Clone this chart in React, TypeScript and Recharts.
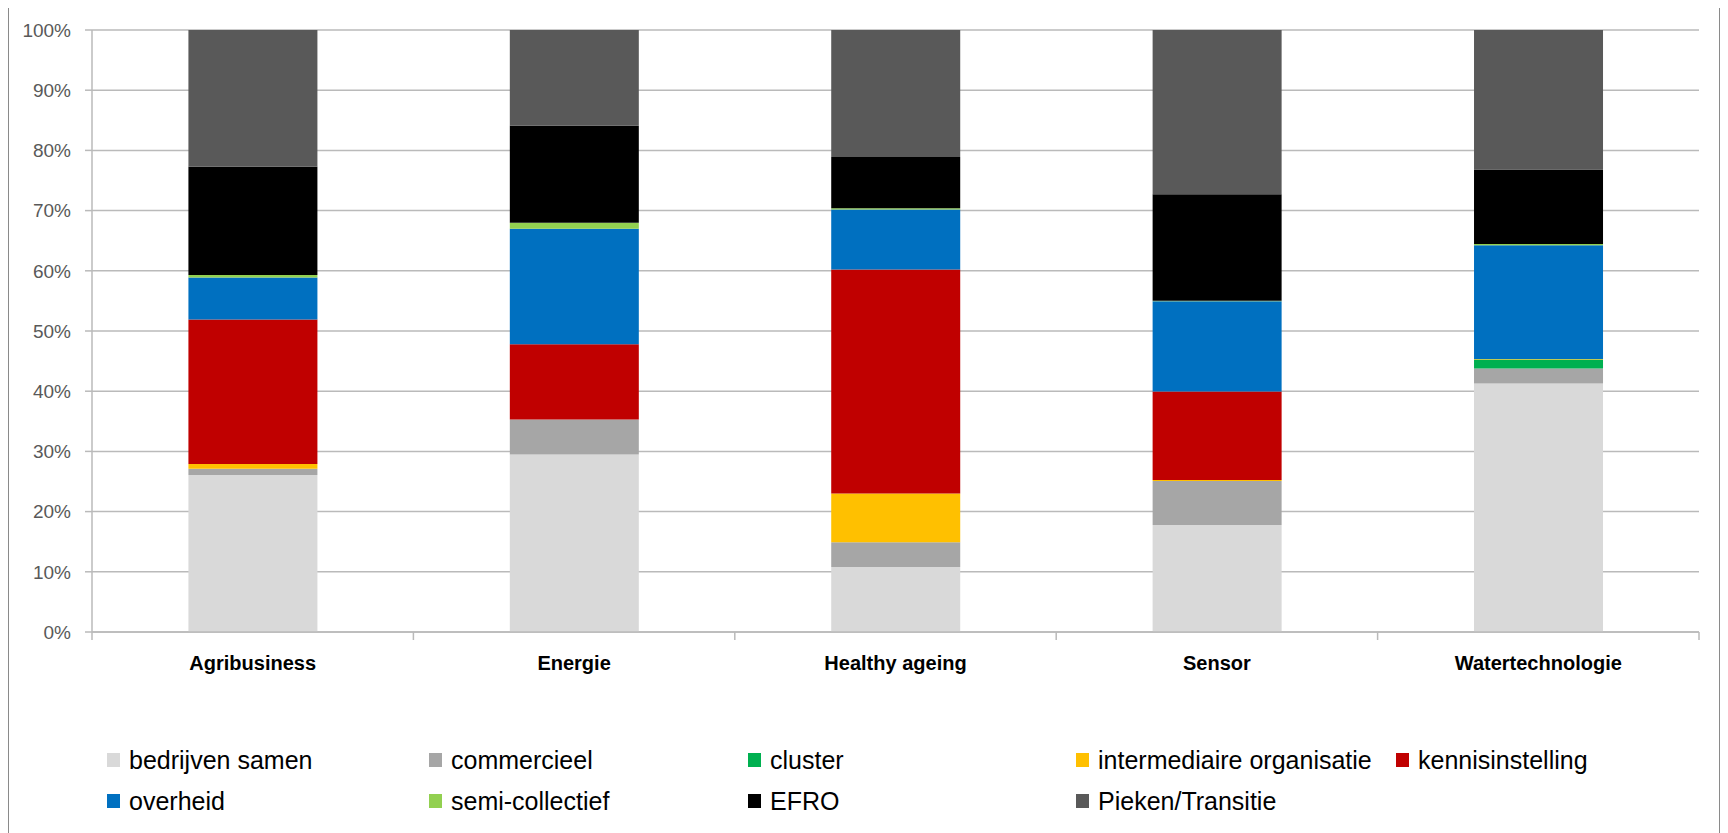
import React from 'react';
import { BarChart, Bar, XAxis, YAxis, CartesianGrid, Legend } from 'recharts';

const categories = ['Agribusiness', 'Energie', 'Healthy ageing', 'Sensor', 'Watertechnologie'];

const bedrijvenSamen = [26.1, 29.5, 10.8, 17.8, 41.3];
const commercieel = [1.0, 5.8, 4.1, 7.3, 2.5];
const cluster = [0, 0, 0, 0, 1.5];
const intermediaire = [0.8, 0, 8.1, 0.15, 0.1];
const kennisinstelling = [24.0, 12.5, 37.2, 14.7, 0];
const overheid = [7.0, 19.2, 10.0, 15.0, 18.9];
const semiCollectief = [0.4, 1.0, 0.2, 0.1, 0.2];
const efro = [18.0, 16.1, 8.5, 17.7, 12.4];
const pieken = [22.7, 15.9, 21.1, 27.3, 23.2];

const seriesNames = [
  'bedrijven samen',
  'commercieel',
  'cluster',
  'intermediaire organisatie',
  'kennisinstelling',
  'overheid',
  'semi-collectief',
  'EFRO',
  'Pieken/Transitie',
];
const seriesColors = ['#D9D9D9', '#A6A6A6', '#00B050', '#FFC000', '#C00000', '#0070C0', '#92D050', '#000000', '#595959'];
const seriesValues = [bedrijvenSamen, commercieel, cluster, intermediaire, kennisinstelling, overheid, semiCollectief, efro, pieken];

const yTicks = [0, 0.1, 0.2, 0.3, 0.4, 0.5, 0.6, 0.7, 0.8, 0.9, 1];

const data = categories.map((c, i) => {
  const row: any = { name: c };
  seriesNames.forEach((n, j) => {
    row[n] = seriesValues[j][i];
  });
  return row;
});

const FONT = "'Liberation Sans', Arial, sans-serif";
const GRID = '#BABABA';

const CatTick = (props: any) => {
  const { x, y, payload } = props;
  const index = props.index ?? payload.index;
  const off = payload.offset ?? 160.5;
  const axisY = y - 31;
  return (
    <g>
      <line x1={x - off} x2={x - off} y1={axisY} y2={axisY + 8} stroke={GRID} strokeWidth={1.5} />
      {index === categories.length - 1 && (
        <line x1={x + off} x2={x + off} y1={axisY} y2={axisY + 8} stroke={GRID} strokeWidth={1.5} />
      )}
      <text x={x} y={y} dy="0.35em" textAnchor="middle" fontWeight="bold" fontSize={20} fill="#000" fontFamily={FONT}>
        {payload.value}
      </text>
    </g>
  );
};

const legendLefts = [98, 420, 739, 1067, 1387];
const legendRowCenters = [32, 73];

const LegendContent = () => (
  <div style={{ position: 'relative', width: 1710, height: 105, fontFamily: FONT }}>
    {seriesNames.map((n, i) => {
      const col = i % 5;
      const row = Math.floor(i / 5);
      return (
        <div
          key={n}
          style={{
            position: 'absolute',
            left: legendLefts[col],
            top: legendRowCenters[row] - 15,
            height: 30,
            display: 'flex',
            alignItems: 'center',
            whiteSpace: 'nowrap',
          }}
        >
          <span style={{ display: 'inline-block', width: 13, height: 14, background: seriesColors[i], marginRight: 9 }} />
          <span style={{ fontSize: 25, color: '#000', lineHeight: '30px' }}>{n}</span>
        </div>
      );
    })}
  </div>
);

export default function App() {
  return (
    <div
      style={{
        width: 1714,
        height: 830,
        border: '2px solid #8A8A8A',
        boxSizing: 'border-box',
        marginTop: -3,
        marginLeft: -1,
        position: 'relative',
        background: '#fff',
      }}
    >
      <BarChart
        width={1710}
        height={826}
        data={data}
        stackOffset="expand"
        barCategoryGap="30%"
        margin={{ top: 23, right: 20, left: 11, bottom: 0 }}
      >
        <CartesianGrid vertical={false} stroke={GRID} strokeWidth={1.5} />
        <XAxis
          dataKey="name"
          height={96}
          axisLine={{ stroke: GRID, strokeWidth: 1.5 }}
          tickLine={false}
          tickSize={8}
          tickMargin={23}
          interval={0}
          tick={<CatTick />}
        />
        <YAxis
          width={72}
          domain={[0, 1]}
          ticks={yTicks}
          interval={0}
          tickFormatter={(v: number) => `${Math.round(v * 100)}%`}
          axisLine={{ stroke: GRID, strokeWidth: 1.5 }}
          tickLine={{ stroke: GRID, strokeWidth: 1.5 }}
          tickSize={7}
          tickMargin={14}
          tick={{ fontSize: 19, fill: '#595959', fontFamily: FONT }}
        />
        {seriesNames.map((n, j) => (
          <Bar key={n} dataKey={n} stackId="a" fill={seriesColors[j]} isAnimationActive={false} />
        ))}
        <Legend verticalAlign="bottom" height={105} wrapperStyle={{ left: 0, width: 1710 }} content={() => <LegendContent />} />
      </BarChart>
    </div>
  );
}
